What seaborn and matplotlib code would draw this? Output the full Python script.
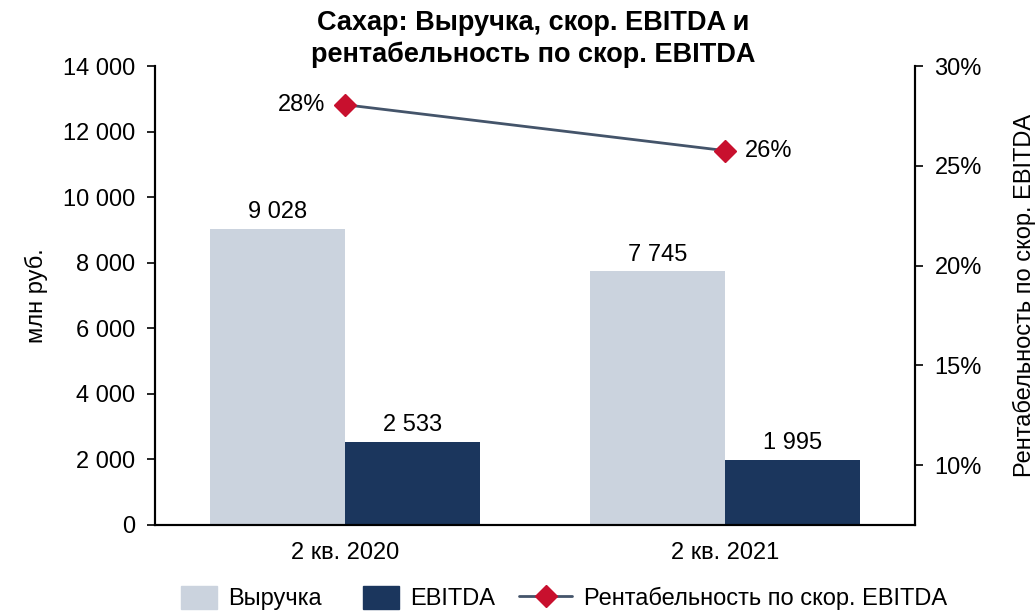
import pandas as pd
import matplotlib
matplotlib.use('Agg')
import matplotlib.pyplot as plt
import matplotlib.ticker as mticker
from matplotlib.lines import Line2D
from matplotlib.patches import Patch, Rectangle
from matplotlib.legend_handler import HandlerPatch
import seaborn as sns

# Дані
periods = ['2 кв. 2020', '2 кв. 2021']
revenue = [9028, 7745]
ebitda = [2533, 1995]
margin = [0.2806, 0.2576]
margin_labels = ['28%', '26%']

series_names = ['Выручка', 'EBITDA']
colors = ['#CBD3DE', '#1B365D']

df = pd.DataFrame({
    'period': periods * 2,
    'series': [series_names[0]] * 2 + [series_names[1]] * 2,
    'value': revenue + ebitda,
})

sns.set_style('white')
plt.rcParams['font.family'] = ['Liberation Sans', 'DejaVu Sans']
plt.rcParams['text.color'] = 'black'
plt.rcParams['axes.labelcolor'] = 'black'
plt.rcParams['xtick.color'] = 'black'
plt.rcParams['ytick.color'] = 'black'

fs = 17

fig = plt.figure(figsize=(10.36, 6.14), dpi=100)
ax = fig.add_axes([0.1496, 0.145, 0.7336, 0.7475])

sns.barplot(data=df, x='period', y='value', hue='series', palette=colors,
            width=0.71, saturation=1, ax=ax, legend=False, linewidth=0)

ax.set_ylim(0, 14000)
ax.set_xlim(-0.5, 1.5)
ax.set_yticks(range(0, 14001, 2000))
ax.yaxis.set_major_formatter(mticker.FuncFormatter(lambda v, p: f'{int(v):,}'.replace(',', ' ')))
ax.set_xlabel('')
ax.set_ylabel('млн руб.', fontsize=fs, labelpad=11)
ax.tick_params(axis='y', labelsize=fs, length=6, width=1.2, direction='out', left=True, pad=8)
ax.tick_params(axis='x', labelsize=fs, length=0, pad=12)

for s in ['left', 'bottom', 'right']:
    ax.spines[s].set_color('black')
    ax.spines[s].set_linewidth(1.5)
ax.spines['top'].set_visible(False)

for cont in ax.containers:
    ax.bar_label(cont, labels=[f'{int(v):,}'.replace(',', ' ') for v in cont.datavalues],
                 fontsize=fs, padding=4)

# Рентабельність на другій осі
ax2 = ax.twinx()
ax2.plot([0, 1], margin, color='#44546A', lw=2, marker='D', markersize=11,
         markerfacecolor='#C8102E', markeredgecolor='#C8102E', zorder=5)
ax2.set_ylim(0.07, 0.30)
ax2.set_yticks([0.10, 0.15, 0.20, 0.25, 0.30])
ax2.yaxis.set_major_formatter(mticker.FuncFormatter(lambda v, p: f'{v * 100:.0f}%'))
ax2.tick_params(axis='y', labelsize=fs, length=6, width=1.2, direction='out', right=True, pad=8)
ax2.set_ylabel('Рентабельность по скор. EBITDA', fontsize=fs, labelpad=22)
ax2.grid(False)
for s in ['left', 'bottom', 'right']:
    ax2.spines[s].set_color('black')
    ax2.spines[s].set_linewidth(1.5)
ax2.spines['top'].set_visible(False)

ax2.annotate(margin_labels[0], (0, margin[0]), xytext=(-14, 0), textcoords='offset points',
             ha='right', va='center', fontsize=fs)
ax2.annotate(margin_labels[1], (1, margin[1]), xytext=(14, 0), textcoords='offset points',
             ha='left', va='center', fontsize=fs)

fig.text(0.5145, 1 - 39 / 614, 'Сахар: Выручка, скор. EBITDA и\nрентабельность по скор. EBITDA',
         fontsize=19.5, fontweight='bold', ha='center', va='center', linespacing=1.3)


def square(legend, orig_handle, xdescent, ydescent, width, height, fontsize):
    w = 1.5 * fontsize
    return Rectangle((-xdescent + width - w, -ydescent), w, height)


handles = [Patch(color=colors[0], label=series_names[0]),
           Patch(color=colors[1], label=series_names[1]),
           Line2D([0], [0], color='#44546A', lw=2, marker='D', markersize=11,
                  markerfacecolor='#C8102E', markeredgecolor='#C8102E',
                  label='Рентабельность по скор. EBITDA')]
fig.legend(handles=handles, loc='center', bbox_to_anchor=(0.536, 0.026), ncol=3,
           frameon=False, fontsize=fs, handlelength=2.25, handleheight=1.15, columnspacing=1.0,
           handletextpad=0.5, handler_map={Patch: HandlerPatch(patch_func=square)})

fig.savefig('out.png', dpi=100)
